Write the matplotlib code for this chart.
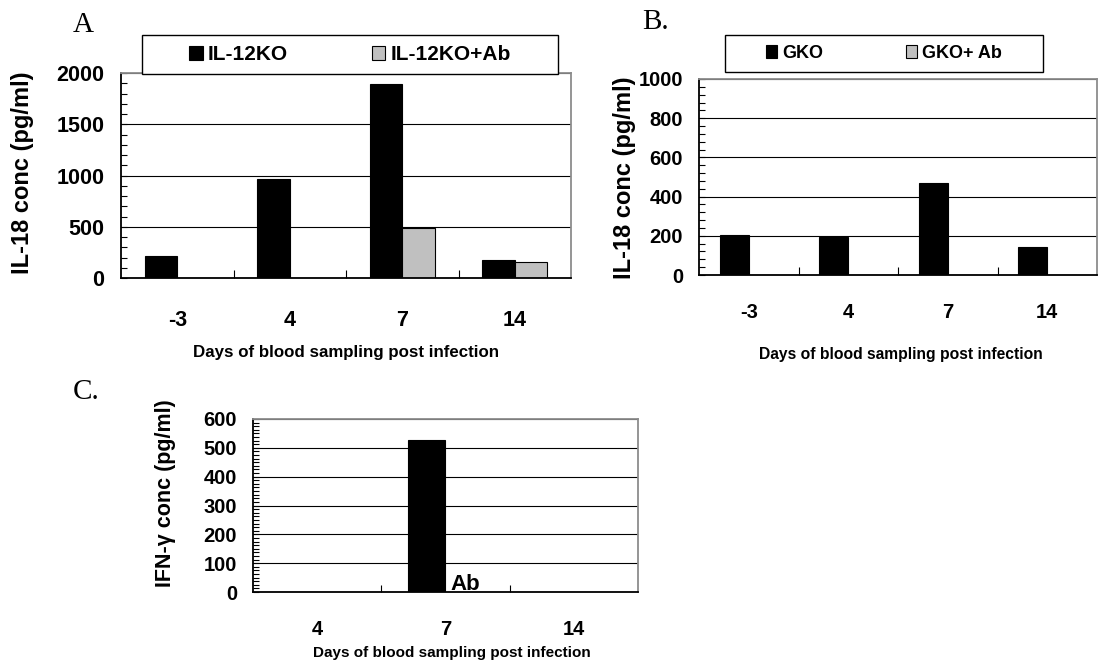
import matplotlib
matplotlib.use('Agg')
import matplotlib.pyplot as plt
from matplotlib.ticker import MultipleLocator, FixedLocator
from matplotlib import font_manager as fm
from matplotlib.patches import Rectangle
import numpy as np

# ---------------- data ----------------
days_ab = ['-3', '4', '7', '14']
il12ko = [215, 966, 1893, 176]
il12ko_ab = [0, 0, 488, 156]
gko = [205, 195, 467, 145]
gko_ab = [0, 0, 0, 0]
days_c = ['4', '7', '14']
ifn = [0, 527, 0]
ifn_ab = [0, 0, 0]

labels_a = ['IL-12KO', 'IL-12KO+Ab']
labels_b = ['GKO', 'GKO+ Ab']
xlabel = 'Days of blood sampling post infection'
ylabel_il18 = 'IL-18 conc (pg/ml)'
ylabel_ifn = 'IFN-\u03b3 conc (pg/ml)'

# ---------------- fonts ----------------
names = {f.name for f in fm.fontManager.ttflist}
NARROW, NS = 'Liberation Sans', 1.0
for cand in ['Liberation Sans Narrow', 'Arial Narrow']:
    if cand in names:
        NARROW, NS = cand, 1.12
        break
SANS = 'Liberation Sans'
SERIF = 'Liberation Serif'

W, H = 1099, 666
fig = plt.figure(figsize=(W / 100, H / 100), dpi=100)


def px_axes(l, t, r, b):
    return fig.add_axes([l / W, 1 - b / H, (r - l) / W, (b - t) / H])


def fx(x):
    return x / W


def fy(y):
    return 1 - y / H


BLACK = '#000000'
GRAY = '#c0c0c0'
SPINE_GRAY = '#8c8c8c'


def style_axes(ax, ymax, ymajor, yminor, tick_font, ytick_size, xtick_size,
               ypad, xpad, xtick_len):
    ax.set_ylim(0, ymax)
    ax.yaxis.set_major_locator(MultipleLocator(ymajor))
    ax.yaxis.set_minor_locator(MultipleLocator(yminor))
    ax.yaxis.grid(True, which='major', color='black', lw=0.8)
    ax.set_axisbelow(True)
    for s in ['left', 'bottom']:
        ax.spines[s].set_color('black')
        ax.spines[s].set_linewidth(1.3)
    for s in ['top', 'right']:
        ax.spines[s].set_color(SPINE_GRAY)
        ax.spines[s].set_linewidth(1.3)
    ax.tick_params(axis='y', which='both', direction='in', length=4, width=0.8,
                   pad=ypad, right=False)
    ax.tick_params(axis='x', which='major', length=0, pad=xpad)
    ax.tick_params(axis='x', which='minor', direction='in', length=xtick_len, width=0.8)
    for lab in ax.get_yticklabels():
        lab.set_fontfamily(tick_font)
        lab.set_fontweight('bold')
        lab.set_fontsize(ytick_size)
    for lab in ax.get_xticklabels():
        lab.set_fontfamily(tick_font)
        lab.set_fontweight('bold')
        lab.set_fontsize(xtick_size)


def legend_box(handles, labels, l, t, r, b, size, hl, hh, htp, cs):
    fig.add_artist(Rectangle((fx(l), fy(b)), fx(r) - fx(l), fy(t) - fy(b),
                             transform=fig.transFigure, facecolor='white',
                             edgecolor='black', lw=1.0, zorder=1))
    leg = fig.legend(handles, labels, loc='center',
                     bbox_to_anchor=(fx((l + r) / 2), fy((t + b) / 2)),
                     bbox_transform=fig.transFigure, ncol=2, frameon=False,
                     prop={'family': NARROW, 'weight': 'bold', 'size': size},
                     handlelength=hl, handleheight=hh, handletextpad=htp,
                     columnspacing=cs, borderpad=0, borderaxespad=0)
    leg.set_zorder(6)
    return leg


bw = 0.29

# ---------------- Panel A ----------------
axA = px_axes(121, 73, 571, 278)
xa = np.arange(len(days_ab))
bA1 = axA.bar(xa - bw / 2, il12ko, width=bw, color=BLACK, edgecolor='black', lw=0.8)
bA2 = axA.bar(xa + bw / 2, il12ko_ab, width=bw, color=GRAY, edgecolor='black', lw=0.8)
axA.set_xlim(-0.5, len(days_ab) - 0.5)
axA.set_xticks(xa)
axA.set_xticklabels(days_ab)
axA.xaxis.set_minor_locator(FixedLocator(xa[:-1] + 0.5))
style_axes(axA, 2000, 500, 100, NARROW, 15.5 * NS, 15.5 * NS, 12, 23, 6)
legend_box([bA1, bA2], labels_a, 142, 35, 558, 74, 15 * NS, 0.67, 0.67, 0.25, 4.0)
fig.text(fx(23), fy(173), ylabel_il18, rotation=90, ha='center', va='center',
         fontfamily=SANS, fontweight='bold', fontsize=17)
fig.text(fx(346), fy(353), xlabel, ha='center', va='center',
         fontfamily=NARROW, fontweight='bold', fontsize=12.2 * NS)
fig.text(fx(73), fy(32), 'A', ha='left', va='baseline', fontfamily=SERIF, fontsize=21)

# ---------------- Panel B ----------------
axB = px_axes(699, 79, 1097, 275)
xb = np.arange(len(days_ab))
bB1 = axB.bar(xb - bw / 2, gko, width=bw, color=BLACK, edgecolor='black', lw=0.8)
bB2 = axB.bar(xb + bw / 2, gko_ab, width=bw, color=GRAY, edgecolor='black', lw=0.8)
axB.set_xlim(-0.5, len(days_ab) - 0.5)
axB.set_xticks(xb)
axB.set_xticklabels(days_ab)
axB.xaxis.set_minor_locator(FixedLocator(xb[:-1] + 0.5))
style_axes(axB, 1000, 200, 40, NARROW, 14.5 * NS, 14.5 * NS, 11.5, 20, 6)
legend_box([bB1, bB2], labels_b, 725, 35, 1043, 72, 13 * NS, 0.6, 0.75, 0.28, 4.6)
fig.text(fx(624), fy(178), ylabel_il18, rotation=90, ha='center', va='center',
         fontfamily=SANS, fontweight='bold', fontsize=17)
fig.text(fx(901), fy(355), xlabel, ha='center', va='center',
         fontfamily=NARROW, fontweight='bold', fontsize=11.25 * NS)
fig.text(fx(642), fy(29), 'B.', ha='left', va='baseline', fontfamily=SERIF, fontsize=21)

# ---------------- Panel C ----------------
axC = px_axes(253, 419, 638, 592)
xc = np.array([1, 3, 5])
cw = 0.59
axC.bar(xc - cw / 2, ifn, width=cw, color=BLACK, edgecolor='black', lw=0.8)
axC.bar(xc + cw / 2, ifn_ab, width=cw, color=GRAY, edgecolor='black', lw=0.0)
axC.set_xlim(0, 6)
axC.set_xticks(xc)
axC.set_xticklabels(days_c)
axC.xaxis.set_minor_locator(FixedLocator([1, 2, 3, 4, 5]))
style_axes(axC, 600, 100, 12.5, SANS, 14.5, 14.5, 11.5, 20, 5)
axC.text(3.08, 6, 'Ab', ha='left', va='baseline', fontfamily=NARROW,
         fontweight='bold', fontsize=16 * NS)
fig.text(fx(165), fy(493), ylabel_ifn, rotation=90, ha='center', va='center',
         fontfamily=SANS, fontweight='bold', fontsize=15.5)
fig.text(fx(452), fy(653), xlabel, ha='center', va='center',
         fontfamily=NARROW, fontweight='bold', fontsize=11 * NS)
fig.text(fx(73), fy(399), 'C.', ha='left', va='baseline', fontfamily=SERIF, fontsize=21)

fig.savefig('out.png', dpi=100)
